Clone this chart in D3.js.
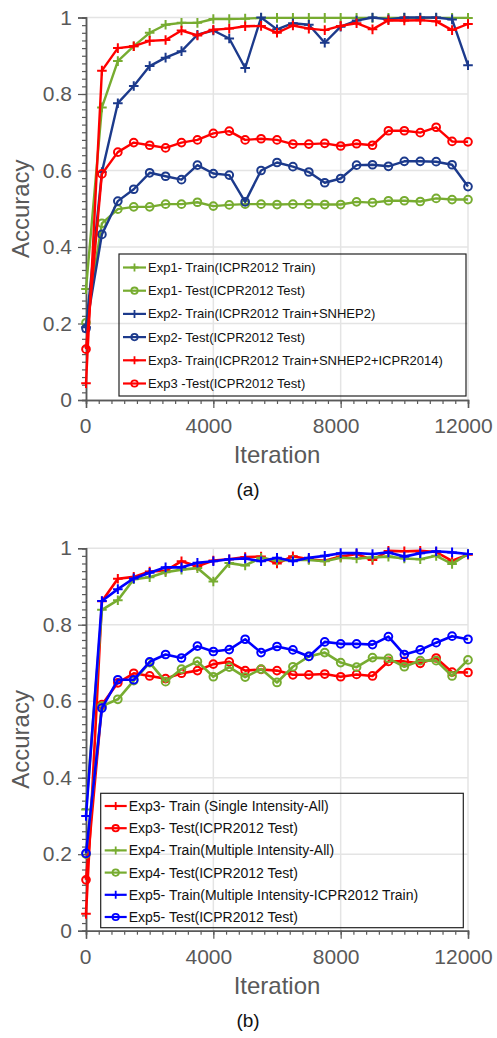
<!DOCTYPE html>
<html>
<head>
<meta charset="utf-8">
<script src="https://cdnjs.cloudflare.com/ajax/libs/d3/7.8.5/d3.min.js"></script>
<style>
  html, body { margin: 0; padding: 0; background: #fff; }
  svg { display: block; }
  text { font-family: "Liberation Sans", Arial, sans-serif; }
</style>
</head>
<body>
<svg id="chart" width="497" height="1038"></svg>
<script>
// iterations shared by every series (first sample at 0, then every 500)
const iterations = [0, 500, 1000, 1500, 2000, 2500, 3000, 3500, 4000, 4500, 5000, 5500, 6000,
  6500, 7000, 7500, 8000, 8500, 9000, 9500, 10000, 10500, 11000, 11500, 12000]

const xTicks = [0, 4000, 8000, 12000]
const yTicks = [0, 0.2, 0.4, 0.6, 0.8, 1]

const exp1Train = [0.29, 0.765, 0.886, 0.925, 0.960, 0.981, 0.986, 0.986, 0.996, 0.996, 0.997, 0.999, 0.999,
  0.999, 0.999, 0.999, 0.999, 0.999, 0.999, 0.999, 0.999, 0.999, 0.999, 0.999, 0.999]
const exp1Test = [0.202, 0.462, 0.499, 0.505, 0.505, 0.512, 0.512, 0.517, 0.507, 0.510, 0.512, 0.512, 0.511,
  0.512, 0.512, 0.511, 0.511, 0.518, 0.516, 0.521, 0.521, 0.519, 0.527, 0.524, 0.524]
const exp2Train = [0.19, 0.596, 0.776, 0.821, 0.873, 0.895, 0.912, 0.955, 0.966, 0.945, 0.868, 1.0, 0.969,
  0.985, 0.981, 0.934, 0.976, 0.992, 1.0, 0.995, 1.0, 1.0, 1.0, 0.995, 0.875]
const exp2Test = [0.187, 0.433, 0.520, 0.551, 0.594, 0.585, 0.576, 0.614, 0.592, 0.588, 0.518, 0.600, 0.621,
  0.610, 0.596, 0.568, 0.579, 0.614, 0.615, 0.611, 0.624, 0.624, 0.623, 0.615, 0.558]
const exp3Train = [0.044, 0.861, 0.920, 0.925, 0.939, 0.941, 0.966, 0.953, 0.968, 0.971, 0.977, 0.978, 0.960,
  0.979, 0.971, 0.967, 0.978, 0.985, 0.969, 0.993, 0.992, 0.993, 0.990, 0.967, 0.983]
const exp3Test = [0.133, 0.591, 0.648, 0.673, 0.666, 0.659, 0.673, 0.680, 0.697, 0.703, 0.680, 0.683, 0.680,
  0.669, 0.669, 0.671, 0.664, 0.670, 0.666, 0.704, 0.704, 0.699, 0.713, 0.676, 0.675]
const exp4Train = [0.317, 0.839, 0.864, 0.919, 0.924, 0.937, 0.944, 0.948, 0.913, 0.961, 0.955, 0.975, 0.968,
  0.969, 0.969, 0.966, 0.975, 0.973, 0.976, 0.978, 0.973, 0.971, 0.980, 0.959, 0.985]
const exp4Test = [0.2, 0.587, 0.605, 0.654, 0.701, 0.651, 0.684, 0.704, 0.664, 0.689, 0.663, 0.684, 0.649,
  0.690, 0.717, 0.727, 0.701, 0.689, 0.714, 0.712, 0.690, 0.706, 0.706, 0.666, 0.708]
const exp5Train = [0.30, 0.862, 0.893, 0.921, 0.936, 0.950, 0.950, 0.962, 0.966, 0.971, 0.973, 0.966, 0.975,
  0.966, 0.975, 0.980, 0.987, 0.987, 0.985, 0.989, 0.978, 0.987, 0.992, 0.989, 0.985]
const exp5Test = [0.202, 0.582, 0.656, 0.656, 0.703, 0.722, 0.713, 0.744, 0.730, 0.735, 0.762, 0.727, 0.743,
  0.734, 0.717, 0.755, 0.750, 0.750, 0.748, 0.769, 0.722, 0.734, 0.753, 0.770, 0.762]

const GREEN = '#77ac30'
const NAVY = '#1c3a8c'
const RED = '#ff0000'
const BLUE = '#0000ff'
const AXIS = '#595959'

const seriesA = [
  {name: 'Exp1- Train(ICPR2012 Train)', values: exp1Train, color: GREEN, mark: 'plus'},
  {name: 'Exp1- Test(ICPR2012 Test)', values: exp1Test, color: GREEN, mark: 'circle'},
  {name: 'Exp2- Train(ICPR2012 Train+SNHEP2)', values: exp2Train, color: NAVY, mark: 'plus'},
  {name: 'Exp2- Test(ICPR2012 Test)', values: exp2Test, color: NAVY, mark: 'circle'},
  {name: 'Exp3- Train(ICPR2012 Train+SNHEP2+ICPR2014)', values: exp3Train, color: RED, mark: 'plus'},
  {name: 'Exp3 -Test(ICPR2012 Test)', values: exp3Test, color: RED, mark: 'circle'}
]

const seriesB = [
  {name: 'Exp3- Train (Single Intensity-All)', values: exp3Train, color: RED, mark: 'plus'},
  {name: 'Exp3- Test(ICPR2012 Test)', values: exp3Test, color: RED, mark: 'circle'},
  {name: 'Exp4- Train(Multiple Intensity-All)', values: exp4Train, color: GREEN, mark: 'plus'},
  {name: 'Exp4- Test(ICPR2012 Test)', values: exp4Test, color: GREEN, mark: 'circle'},
  {name: 'Exp5- Train(Multiple Intensity-ICPR2012 Train)', values: exp5Train, color: BLUE, mark: 'plus'},
  {name: 'Exp5- Test(ICPR2012 Test)', values: exp5Test, color: BLUE, mark: 'circle'}
]

const svg = d3.select('#chart')

/**
 * Draw a marker (plus or hollow circle) into a selection.
 */
function drawMarks (sel, mark, color, size, width) {
  if (mark === 'plus') {
    sel.append('path')
      .attr('d', `M${-size},0H${size}M0,${-size}V${size}`)
      .attr('stroke', color)
      .attr('stroke-width', width)
      .attr('fill', 'none')
  } else {
    sel.append('circle')
      .attr('r', size * 0.8)
      .attr('stroke', color)
      .attr('stroke-width', width)
      .attr('fill', 'none')
  }
}

/**
 * One panel: grid, axes, lines, legend and caption.
 */
function drawPanel (series, opts) {
  const x = d3.scaleLinear().domain([0, 12000]).range([86, 468])
  const y = d3.scaleLinear().domain([0, 1]).range([opts.y0, opts.y0 - 382.5])
  const g = svg.append('g')

  // grid
  g.selectAll('.hgrid').data(yTicks.filter((d) => d > 0)).enter()
    .append('line')
    .attr('x1', x(0)).attr('x2', x(12000))
    .attr('y1', (d) => y(d)).attr('y2', (d) => y(d))
    .attr('stroke', '#e4e4e4').attr('stroke-width', 1.5)
  g.selectAll('.vgrid').data(xTicks.filter((d) => d > 0)).enter()
    .append('line')
    .attr('x1', (d) => x(d)).attr('x2', (d) => x(d))
    .attr('y1', y(0)).attr('y2', y(1))
    .attr('stroke', '#e4e4e4').attr('stroke-width', 1.5)

  // axes with minor ticks
  const yAxis = d3.axisLeft(y).tickValues(d3.range(0, 51).map((i) => i / 50))
    .tickSize(4).tickFormat('')
  const yMajor = d3.axisLeft(y).tickValues(yTicks).tickSize(8).tickPadding(6)
    .tickFormat((d) => d3.format('~g')(d))
  const xAxis = d3.axisBottom(x).tickValues(d3.range(0, 12001, 400)).tickSize(4).tickFormat('')
  const xMajor = d3.axisBottom(x).tickValues(xTicks).tickSize(8).tickPadding(10)
    .tickFormat(d3.format('d'))

  const styleAxis = (a) => {
    a.selectAll('path.domain').attr('stroke', AXIS).attr('stroke-width', 1.5)
    a.selectAll('line').attr('stroke', AXIS).attr('stroke-width', 1.2)
    a.selectAll('text').attr('fill', AXIS).attr('font-size', 21)
      .attr('font-family', '"Liberation Sans", Arial, sans-serif')
  }
  g.append('g').attr('transform', 'translate(86,0)').call(yAxis).call(styleAxis)
  g.append('g').attr('transform', 'translate(86,0)').call(yMajor).call(styleAxis)
  g.append('g').attr('transform', `translate(0,${opts.y0})`).call(xAxis).call(styleAxis)
  g.append('g').attr('transform', `translate(0,${opts.y0})`).call(xMajor).call(styleAxis)
    // labels sit a little left of their ticks in the original
    .selectAll('text').attr('dx', (d) => d === 0 ? -1 : -5)

  // axis titles
  g.append('text')
    .attr('transform', `translate(29,${(y(0) + y(1)) / 2}) rotate(-90)`)
    .attr('text-anchor', 'middle')
    .attr('fill', AXIS).attr('font-size', 24)
    .text('Accuracy')
  g.append('text')
    .attr('x', (x(0) + x(12000)) / 2).attr('y', opts.y0 + 63)
    .attr('text-anchor', 'middle')
    .attr('fill', AXIS).attr('font-size', 24)
    .text('Iteration')

  // series
  const line = d3.line().x((d, i) => x(iterations[i])).y((d) => y(d))
  series.forEach((s) => {
    const sg = g.append('g')
    sg.append('path')
      .attr('d', line(s.values))
      .attr('fill', 'none')
      .attr('stroke', s.color)
      .attr('stroke-width', opts.lineWidth)
      .attr('stroke-linejoin', 'round')
    sg.selectAll('.mark').data(s.values).enter()
      .append('g')
      .attr('transform', (d, i) => `translate(${x(iterations[i])},${y(d)})`)
      .each(function () { drawMarks(d3.select(this), s.mark, s.color, 4.8, 2) })
  })

  // legend
  const lg = g.append('g')
  const L = opts.legend
  lg.append('rect')
    .attr('x', L.x).attr('y', L.y).attr('width', L.w).attr('height', L.h)
    .attr('fill', 'none').attr('stroke', '#222').attr('stroke-width', 1.2)
  series.forEach((s, i) => {
    const cy = L.first + i * L.step
    lg.append('line')
      .attr('x1', L.x + 4).attr('x2', L.x + 4 + L.line)
      .attr('y1', cy).attr('y2', cy)
      .attr('stroke', s.color).attr('stroke-width', 2.2)
    const m = lg.append('g').attr('transform', `translate(${L.x + 4 + L.line / 2},${cy})`)
    drawMarks(m, s.mark, s.color, 4, 1.8)
    lg.append('text')
      .attr('x', L.x + 6 + L.line).attr('y', cy)
      .attr('dy', '0.35em')
      .attr('font-size', L.font).attr('fill', '#111')
      .text(s.name)
  })

  // caption
  g.append('text')
    .attr('x', 248).attr('y', opts.caption)
    .attr('text-anchor', 'middle')
    .attr('font-family', '"Liberation Serif", "Times New Roman", serif')
    .attr('font-size', 19).attr('fill', '#111')
    .text(opts.label)
}

drawPanel(seriesA, {
  y0: 400, lineWidth: 2.4, label: '(a)', caption: 496,
  legend: {x: 119, y: 254, w: 347, h: 142, first: 267.5, step: 23.2, line: 23, font: 13}
})
drawPanel(seriesB, {
  y0: 930.7, lineWidth: 2.6, label: '(b)', caption: 1027,
  legend: {x: 100.7, y: 793.3, w: 362.6, h: 134.4, first: 806, step: 22.2, line: 22, font: 14}
})
</script>
</body>
</html>
